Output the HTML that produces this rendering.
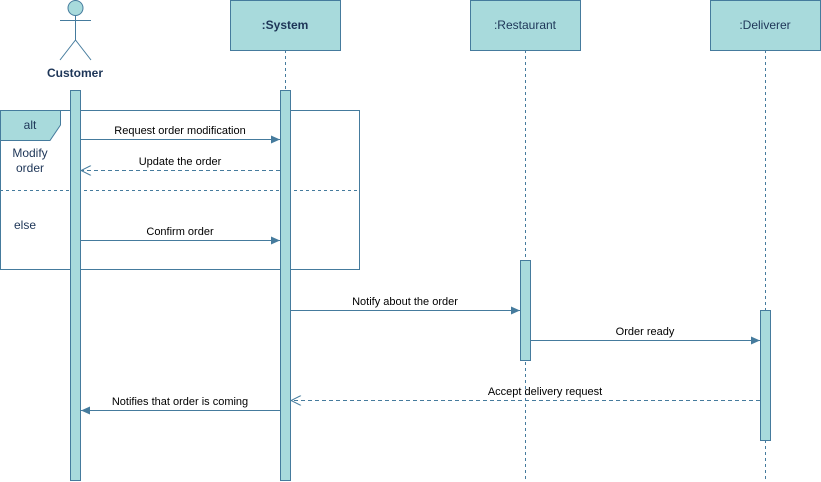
<!DOCTYPE html>
<html><head><style>body{margin:0;background:#fff}svg{display:block}</style></head><body>
<svg width="821" height="482" viewBox="0 0 821 482" xmlns="http://www.w3.org/2000/svg" font-family="Liberation Sans, sans-serif">
<defs>
<marker id="a" markerWidth="10" markerHeight="8" refX="9" refY="4" orient="auto" markerUnits="userSpaceOnUse"><path d="M0,0 L9,4 L0,8 Z" fill="#457b9d"/></marker>
<marker id="o" markerWidth="12" markerHeight="10" refX="11" refY="5" orient="auto" markerUnits="userSpaceOnUse"><path d="M1,0 L11,5 L1,10" fill="none" stroke="#457b9d"/></marker>
</defs>
<g stroke="#457b9d" fill="#a8dadc">
<g stroke-dasharray="3,3" fill="none"><line x1="285.5" y1="50" x2="285.5" y2="482"/><line x1="525.5" y1="50" x2="525.5" y2="482"/><line x1="765.5" y1="50" x2="765.5" y2="482"/></g>
<rect x="230.5" y="0.5" width="110" height="50"/>
<rect x="470.5" y="0.5" width="110" height="50"/>
<rect x="710.5" y="0.5" width="110" height="50"/>
<circle cx="75.5" cy="8" r="7.5"/>
<g fill="none"><line x1="75.5" y1="15.5" x2="75.5" y2="40"/><line x1="60" y1="20.5" x2="91" y2="20.5"/><line x1="75.5" y1="40" x2="60" y2="60"/><line x1="75.5" y1="40" x2="91" y2="60"/></g>
<rect x="0.5" y="110.5" width="359" height="159" fill="none"/>
<path d="M0.5,110.5 H60.5 V125 L50,140.5 H0.5 Z"/>
<line x1="0" y1="190.5" x2="360" y2="190.5" stroke-dasharray="3,3" fill="none"/>
<rect x="70.5" y="90.5" width="10" height="390"/>
<rect x="280.5" y="90.5" width="10" height="390"/>
<rect x="520.5" y="260.5" width="10" height="100"/>
<rect x="760.5" y="310.5" width="10" height="130"/>
<g fill="none">
<line x1="81" y1="139.5" x2="280" y2="139.5" marker-end="url(#a)"/>
<line x1="280" y1="170.5" x2="81" y2="170.5" stroke-dasharray="4,3" marker-end="url(#o)"/>
<line x1="81" y1="240.5" x2="280" y2="240.5" marker-end="url(#a)"/>
<line x1="291" y1="310.5" x2="520" y2="310.5" marker-end="url(#a)"/>
<line x1="531" y1="340.5" x2="760" y2="340.5" marker-end="url(#a)"/>
<line x1="760" y1="400.5" x2="291" y2="400.5" stroke-dasharray="4,3" marker-end="url(#o)"/>
<line x1="280" y1="410.5" x2="81" y2="410.5" marker-end="url(#a)"/>
</g>
</g>
<g fill="#1d3557" font-size="12">
<text x="285" y="29" text-anchor="middle" font-weight="bold">:System</text>
<text x="525" y="29" text-anchor="middle">:Restaurant</text>
<text x="765" y="29" text-anchor="middle">:Deliverer</text>
<text x="75" y="77" text-anchor="middle" font-weight="bold">Customer</text>
<text x="30" y="129" text-anchor="middle">alt</text>
<text x="30" y="157" text-anchor="middle">Modify</text>
<text x="30" y="172" text-anchor="middle">order</text>
<text x="25" y="229" text-anchor="middle">else</text>
</g>
<g fill="#000" font-size="11" text-anchor="middle">
<text x="180" y="134">Request order modification</text>
<text x="180" y="165">Update the order</text>
<text x="180" y="235">Confirm order</text>
<text x="405" y="305">Notify about the order</text>
<text x="645" y="335">Order ready</text>
<text x="545" y="395">Accept delivery request</text>
<text x="180" y="405">Notifies that order is coming</text>
</g>
</svg>
</body></html>
